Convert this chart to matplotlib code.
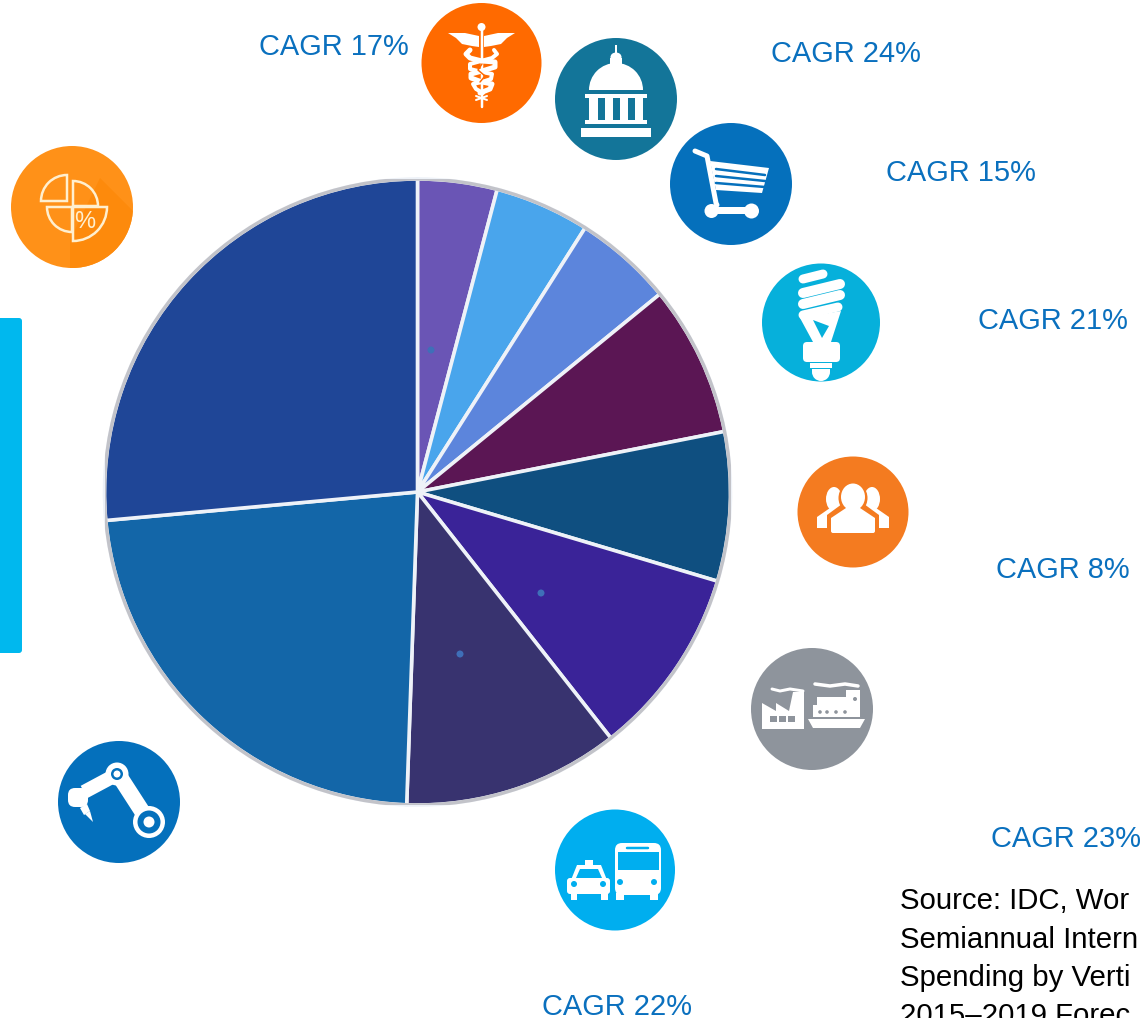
import numpy as np
import matplotlib
matplotlib.use("Agg")
import matplotlib.pyplot as plt
from matplotlib.patches import Circle, Ellipse, Polygon, Rectangle, FancyBboxPatch, Wedge

plt.rcParams['font.family'] = ['Liberation Sans', 'DejaVu Sans']

W, H = 1146, 1018

# pie shares in percent, clockwise from 12 o'clock
shares = [4.1, 4.9, 5.1, 7.8, 7.7, 9.8, 11.15, 23.0, 26.45]
slice_colors = ['#6A55B5', '#49A5EC', '#5C85DC', '#5B1654', '#0F4F80',
                '#3A2398', '#38336F', '#1366A8', '#1F4697']

cagr_labels = ['CAGR 17%', 'CAGR 24%', 'CAGR 15%', 'CAGR 21%', 'CAGR 8%', 'CAGR 23%', 'CAGR 22%']
cagr_x = [259, 771, 886, 978, 996, 991, 542]
cagr_y = [55, 62, 181, 329, 578, 847, 1015]

source_lines = ['Source: IDC, Wor', 'Semiannual Intern', 'Spending by Verti', '2015–2019 Forec']
source_y = [909, 948, 986, 1024]

fig = plt.figure(figsize=(W / 100, H / 100), dpi=100, facecolor='white')

# pie in its own axes
cx, cy, r = 417.5, 492, 313
pie_ax = fig.add_axes([(cx - r) / W, 1 - (cy + r) / H, 2 * r / W, 2 * r / H])
pie_ax.pie(shares, colors=slice_colors, startangle=90, counterclock=False, radius=1,
           wedgeprops=dict(edgecolor='#EEF2F8', linewidth=2.6))
pie_ax.set_xlim(-1, 1)
pie_ax.set_ylim(-1, 1)
pie_ax.add_patch(Circle((0, 0), 1, fill=False, ec='#C2C3C9', lw=2.4))
pie_ax.axis('off')

# everything else in y-down pixels
ax = fig.add_axes([0, 0, 1, 1], facecolor='none')
ax.set_xlim(0, W)
ax.set_ylim(H, 0)
ax.axis('off')


def px(v):
    return v * 0.72


def poly(pts, c='white', z=5):
    ax.add_patch(Polygon(pts, closed=True, fc=c, ec='none', zorder=z))


def rect(x0, y0, x1, y1, c='white', z=5):
    ax.add_patch(Rectangle((x0, y0), x1 - x0, y1 - y0, fc=c, ec='none', zorder=z))


def rrect(x0, y0, x1, y1, rad, c='white', z=5):
    ax.add_patch(FancyBboxPatch((x0, y0), x1 - x0, y1 - y0,
                                boxstyle=f'round,pad=0,rounding_size={rad}',
                                fc=c, ec='none', zorder=z))


def line(xs, ys, w, c='white', z=5, cap='round'):
    ax.plot(xs, ys, color=c, lw=px(w), zorder=z, solid_capstyle=cap, solid_joinstyle='round')


def disc(x, y, rad, c='white', z=5):
    ax.add_patch(Circle((x, y), rad, fc=c, ec='none', zorder=z))


# faint dots on the pie
for dx, dy in [(431, 350), (541, 593), (460, 654)]:
    disc(dx, dy, 3.5, '#3F6FB8', 3)

# left bar
rrect(-10, 318, 22, 653, 3, '#00B8EE')

# caduceus
orange = '#FF6A00'
disc(481.5, 63, 60, orange, 2)
line([481.5, 481.5], [28, 107], 2.5)
disc(481.5, 27, 4)
poly([(448, 33), (465, 33), (479, 36), (479, 47), (472, 46), (462, 44), (456, 38)])
poly([(515, 33), (498, 33), (484, 36), (484, 47), (491, 46), (501, 44), (507, 38)])
line([470, 466, 470, 482, 495, 495, 482, 471, 471, 482, 492, 490, 480],
     [50, 54, 58, 61, 62, 67, 71, 74, 78, 82, 84, 89, 93], 5)
line([494, 497, 492, 481, 470, 470, 482, 492, 491, 482, 473, 476, 483],
     [50, 54, 58, 61, 64, 69, 72, 74, 79, 82, 84, 89, 93], 4)
line([482, 478, 485, 480], [64, 70, 76, 82], 1.5, orange, 6)
line([476, 487], [100, 96], 2)
line([476, 487], [96, 100], 2)

# capitol
teal = '#137599'
disc(616, 99, 61, teal, 2)
line([616, 616], [45, 53], 2, cap='butt')
ax.add_patch(Ellipse((616, 57), 11, 9, fc='white', ec='none', zorder=5))
rect(610, 58, 622, 69)
ax.add_patch(Wedge((616, 90), 27, 180, 360, fc='white', ec='none', zorder=5))
rect(585, 94, 647, 98)
rect(589, 98, 643, 120)
for sx in [598, 613, 627.5]:
    rect(sx, 98, sx + 7, 120, teal)
rect(585, 120, 647, 124)
rect(581, 128, 651, 137)

# cart
blue = '#0570BC'
disc(731, 184, 61, blue, 2)
line([695, 707, 716, 717], [151, 156, 203, 205], 5)
poly([(710, 161), (769, 168), (762, 193), (716, 190)])
for ya, yb in [(170, 174), (177, 180), (184, 186)]:
    line([716, 765], [ya - 1, yb + 1], 2.5, blue)
rect(711, 207, 752, 214)
disc(711.5, 211, 7)
disc(751.5, 211, 7.5)

# bulb
cyan = '#06B0DB'
disc(821, 322.5, 59, cyan, 2)
line([803, 823], [279, 274], 9)
line([803, 840], [293, 284], 10)
line([803, 840], [304, 295], 10)
line([803, 838], [315, 307], 9)
poly([(800, 318), (841, 311), (831, 342), (813, 342)])
poly([(813, 320), (829, 326), (822, 338)], cyan, 6)
line([809, 813], [321, 342], 3, cyan, 4)
rrect(803, 342, 840, 362, 4)
rect(810, 363, 832, 368)
rect(812, 369, 830, 372)
ax.add_patch(Wedge((821, 372), 9, 0, 180, fc='white', ec='none', zorder=5))

# people
amber = '#F47B20'
disc(853, 512, 55.5, amber, 2)
ax.add_patch(Ellipse((834, 499), 16, 24, fc='white', ec='none', zorder=5))
ax.add_patch(Ellipse((872, 499), 16, 24, fc='white', ec='none', zorder=5))
poly([(817, 528), (817, 517), (830, 508), (842, 508), (842, 528)])
poly([(889, 528), (889, 517), (876, 508), (864, 508), (864, 528)])
ax.add_patch(Ellipse((853, 498), 29, 32, fc=amber, ec='none', zorder=6))
poly([(827, 535), (827, 515), (842, 504), (864, 504), (879, 515), (879, 535)], amber, 6)
ax.add_patch(Ellipse((853, 497), 24, 27, fc='white', ec='none', zorder=7))
poly([(831, 518), (846, 508), (860, 508), (875, 518), (875, 525), (831, 525)], 'white', 7)
rrect(831, 520, 875, 533, 2, 'white', 7)

# factory and ship
grey = '#8E949C'
disc(812, 709, 61, grey, 2)
poly([(762, 729), (762, 703), (776, 711), (776, 703), (789, 711), (793, 692), (804, 692), (804, 729)])
for bx in [770, 779, 788]:
    rect(bx, 716, bx + 7, 722, grey)
line([772, 780, 790, 803], [689, 691, 689, 691], 3)
line([815, 830, 845, 858], [684, 686, 684, 686], 3.5)
rect(813, 705, 860, 717)
rect(817, 697, 857, 705)
rect(846, 690, 860, 705)
poly([(808, 719), (865, 719), (860, 728), (813, 728)])
for dx in [820, 827, 836, 845]:
    disc(dx, 712, 1.8, grey, 6)
disc(855, 699, 2, grey, 6)

# pie icon
face = Circle((72, 207), 61, fc='#FF9118', ec='none', zorder=2)
ax.add_patch(face)
shadow = Polygon([(100, 178), (140, 218), (140, 275), (70, 275), (70, 240)], closed=True,
                 fc='#FD8A0C', ec='none', zorder=3)
ax.add_patch(shadow)
shadow.set_clip_path(face)
edge = dict(fill=False, ec='#FFEFCF', lw=px(2.5), zorder=5)
ax.add_patch(Wedge((67, 201), 26, 180, 270, **edge))
ax.add_patch(Wedge((73, 206), 25, -90, 0, **edge))
ax.add_patch(Wedge((72, 207), 25, 90, 180, **edge))
ax.add_patch(Wedge((73, 207), 34, 0, 90, **edge))
ax.text(85, 222, '%', color='#FFEFCF', fontsize=17, ha='center', va='center', zorder=6)

# robot arm
disc(119, 802, 61, '#0470BC', 2)
line([118, 149], [774, 822], 16, cap='butt')
line([84, 112], [792, 777], 14, cap='butt')
disc(117, 774, 11.5)
disc(117, 774, 6, '#0470BC', 6)
disc(117, 774, 3.5, 'white', 6)
disc(149, 822, 16)
disc(149, 822, 11.5, '#0470BC', 6)
disc(149, 822, 5.5, 'white', 6)
rrect(68, 788, 88, 807, 7)
poly([(80, 808), (87, 804), (90, 811), (84, 815)])
poly([(85, 814), (90, 811), (93, 822)])

# taxi and bus
sky = '#00AEEF'
ax.add_patch(Ellipse((615, 870), 120, 121, fc=sky, ec='none', zorder=2))
rrect(615, 843, 661, 895, 7)
rect(618, 852, 659, 870, sky, 6)
line([627, 648], [848, 848], 2.5, sky, 6)
rect(616, 893, 624, 900)
rect(650, 893, 658, 900)
disc(620, 882, 3, sky, 6)
disc(654, 882, 3, sky, 6)
rrect(567, 878, 610, 894, 3)
poly([(571, 880), (577, 865), (601, 865), (607, 880)])
poly([(576, 878), (580, 869), (598, 869), (602, 878)], sky, 6)
rect(585, 860, 593, 866)
rect(571, 893, 577, 900)
rect(601, 893, 608, 900)
disc(574, 884, 3, sky, 6)
disc(603, 884, 3, sky, 6)

for lab, x, y in zip(cagr_labels, cagr_x, cagr_y):
    ax.text(x, y, lab, color='#0A70BE', fontsize=20.9, ha='left', va='baseline')

for s, y in zip(source_lines, source_y):
    ax.text(900, y, s, color='black', fontsize=21.2, ha='left', va='baseline')

fig.savefig('out.png', dpi=100)
